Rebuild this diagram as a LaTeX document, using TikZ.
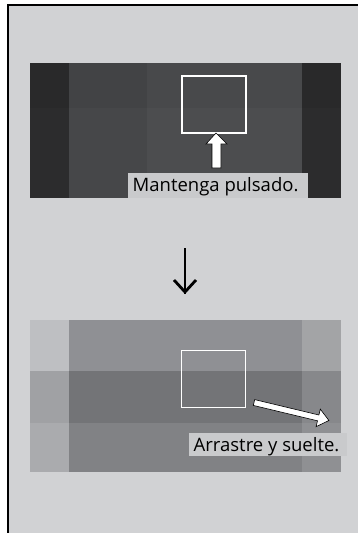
\documentclass[tikz,border=0pt]{standalone}
\usepackage{fontspec}
\setmainfont{Open Sans}
\definecolor{bg}{HTML}{D1D2D4}
\definecolor{lbl}{HTML}{C9CACC}
\definecolor{tA1}{HTML}{29292A}
\definecolor{tA2}{HTML}{2C2C2D}
\definecolor{tB1}{HTML}{424345}
\definecolor{tB2}{HTML}{464749}
\definecolor{tC1}{HTML}{48494B}
\definecolor{tC2}{HTML}{4C4D4F}
\definecolor{bA1}{HTML}{BEBFC2}
\definecolor{bA2}{HTML}{A0A1A4}
\definecolor{bA3}{HTML}{AAABAE}
\definecolor{bB1}{HTML}{8F9094}
\definecolor{bB2}{HTML}{737477}
\definecolor{bB3}{HTML}{818285}
\definecolor{bC1}{HTML}{A3A4A6}
\definecolor{bC2}{HTML}{87888B}
\definecolor{bC3}{HTML}{8F9093}
\tikzset{
  selbox/.style={draw=white, line width=1.2pt, minimum width=64pt, minimum height=57pt, inner sep=0pt},
  lblbox/.style={fill=lbl, inner sep=0pt, anchor=north west},
  lbltext/.style={font=\fontsize{18.5}{20}\selectfont, text=black, anchor=base west, inner sep=0pt},
  blockarrow/.style={fill=white, draw=black, line width=0.6pt, line join=miter},
}
\begin{document}
\begin{tikzpicture}[x=1pt,y=-1pt]
\useasboundingbox (0,0) rectangle (358,533);
\fill[white] (0,0) rectangle (358,533);
\fill[bg] (8,5) rectangle (358,533);
\draw[black, line width=1.4pt] (8,533) -- (8,5) -- (358,5);
% top panel
\foreach \r/\ya/\yb in {1/63/108, 2/108/198} {
  \fill[tA\r] (30,\ya) rectangle (69,\yb);
  \fill[tB\r] (69,\ya) rectangle (147,\yb);
  \fill[tC\r] (147,\ya) rectangle (302,\yb);
  \fill[tA\r] (302,\ya) rectangle (341,\yb);
}
% bottom panel
\foreach \r/\ya/\yb in {1/320/371, 2/371/423, 3/423/472} {
  \fill[bA\r] (30,\ya) rectangle (69,\yb);
  \fill[bB\r] (69,\ya) rectangle (302,\yb);
  \fill[bC\r] (302,\ya) rectangle (341,\yb);
}
% selection boxes
\node[selbox] (sel1) at (214,104.5) {};
\node[selbox] (sel2) at (213.5,379) {};
% labels
\node[lblbox, minimum width=180pt, minimum height=25pt] (lab1) at (128,173) {};
\node[lbltext] (txt1) at (132.5,191) {Mantenga pulsado.};
\node[lblbox, minimum width=158pt, minimum height=23pt] (lab2) at (189,433) {};
\node[lbltext] (txt2) at (193.5,451) {Arrastre y suelte.};
% up block arrow
\draw[blockarrow] (216,133) -- (227,144) -- (221,144) -- (221,168) -- (212,168) -- (212,144) -- (206,144) -- cycle;
% diagonal block arrow
\draw[blockarrow] (254.7,399.6) -- (318.9,415.0) -- (320.3,409.1) -- (328.9,420.5) -- (316.1,426.7) -- (317.5,420.8) -- (253.3,405.4) -- cycle;
% down arrow between panels
\coordinate (a1) at (185,248);
\coordinate (a2) at (185,292);
\draw[line width=2.8pt] (a1) -- ([yshift=-2pt]a2);
\draw[line width=2.8pt, line join=miter] (174,280) -- (a2) -- (196,280);
\end{tikzpicture}
\end{document}
